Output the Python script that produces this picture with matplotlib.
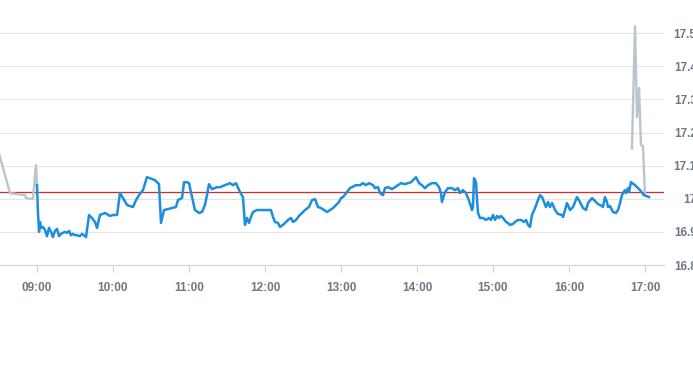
import matplotlib
matplotlib.use("Agg")
import matplotlib.pyplot as plt

# minutes after 09:00 and price
pre_t = [-30, -21.3, -9.5, -8.7, -3.2, -0.8, 0]
pre_v = [17.137, 17.017, 17.011, 17.002, 16.999, 17.102, 17.041]

post_t = [469.7, 472.1, 473.7, 475.3, 476.8, 478.4, 480.0]
post_v = [17.152, 17.521, 17.246, 17.334, 17.162, 17.159, 17.011]

day_t = [0, 0.8, 1.6, 2.4, 3.2, 4.7, 6.3, 7.9, 9.5, 11.1, 12.6, 14.2, 15.8, 17.4,
         18.9, 20.5, 22.1, 23.7, 25.3, 26.8, 28.4, 30.0, 31.6, 33.9, 35.5, 37.1,
         38.7, 41.1, 43.4, 45.8, 47.4, 49.7, 53.7, 57.6, 60.0, 63.2, 65.5, 67.9,
         71.1, 75.8, 78.2, 80.5, 83.7, 86.8, 89.2, 93.2, 96.3, 97.9, 100.3, 103.4,
         106.6, 109.7, 111.3, 114.5, 116.1, 118.4, 120.0, 122.4, 124.7, 127.9,
         130.3, 132.6, 134.2, 135.8, 138.2, 142.1, 144.5, 148.4, 152.4, 154.7,
         157.1, 160.3, 162.6, 164.2, 165.8, 167.4, 168.9, 170.5, 173.7, 177.6,
         181.6, 184.7, 186.3, 187.9, 190.3, 191.8, 194.2, 196.6, 198.2, 200.5,
         202.1, 204.5, 206.8, 209.2, 211.6, 214.7, 217.1, 219.5, 221.8, 224.2,
         226.6, 229.0, 231.3, 233.7, 236.1, 238.4, 240.0, 241.6, 244.7, 247.1,
         248.7, 251.8, 255.0, 257.4, 259.7, 262.1, 265.3, 266.8, 269.2, 270.8,
         273.2, 274.7, 277.1, 280.3, 282.6, 285.0, 287.4, 290.5, 292.9, 295.3,
         299.2, 301.6, 303.9, 306.3, 308.7, 311.8, 315.0, 317.4, 318.9, 319.7,
         322.1, 324.5, 327.6, 330.0, 332.4, 333.9, 336.3, 338.7, 340.3, 341.8,
         343.4, 344.2, 345.0, 346.6, 347.4, 348.2, 349.7, 352.1, 354.5, 356.8,
         358.4, 360.0, 361.6, 363.2, 364.7, 366.3, 367.9, 370.3, 371.8, 373.4,
         375.8, 377.4, 379.7, 382.1, 384.5, 386.1, 387.6, 389.2, 390.8, 393.2,
         395.5, 397.1, 398.7, 400.3, 401.8, 403.4, 405.0, 406.6, 409.0, 411.3,
         414.5, 415.3, 418.4, 420.8, 423.2, 426.3, 428.7, 431.1, 433.4, 435.0,
         438.2, 440.5, 442.9, 446.1, 446.8, 448.4, 450.0, 450.8, 452.4, 453.9,
         454.7, 457.1, 458.7, 460.3, 461.8, 462.6, 464.2, 465.0, 466.6, 467.4,
         468.9, 472.1, 476.1, 479.2, 483.2]
day_v = [17.041, 16.957, 16.900, 16.930, 16.912, 16.915, 16.906, 16.887, 16.912,
         16.900, 16.884, 16.903, 16.909, 16.887, 16.894, 16.897, 16.900, 16.897,
         16.903, 16.890, 16.894, 16.890, 16.890, 16.887, 16.894, 16.890, 16.884,
         16.951, 16.942, 16.930, 16.912, 16.951, 16.957, 16.948, 16.951, 16.951,
         17.017, 17.002, 16.981, 16.975, 16.996, 17.011, 17.026, 17.065, 17.062,
         17.056, 17.044, 16.927, 16.966, 16.969, 16.972, 16.975, 16.996, 17.002,
         17.050, 17.050, 17.047, 17.005, 16.966, 16.957, 16.960, 16.981, 17.011,
         17.044, 17.029, 17.035, 17.035, 17.041, 17.047, 17.041, 17.047, 17.020,
         17.005, 16.921, 16.942, 16.927, 16.945, 16.960, 16.966, 16.966, 16.966,
         16.966, 16.945, 16.930, 16.927, 16.915, 16.921, 16.930, 16.936, 16.942,
         16.930, 16.936, 16.948, 16.957, 16.966, 16.975, 16.996, 16.999, 16.975,
         16.972, 16.966, 16.960, 16.966, 16.972, 16.981, 16.990, 17.002, 17.005,
         17.020, 17.032, 17.035, 17.041, 17.041, 17.047, 17.041, 17.047, 17.041,
         17.032, 17.035, 17.017, 17.011, 17.032, 17.035, 17.029, 17.035, 17.041,
         17.047, 17.044, 17.047, 17.050, 17.065, 17.047, 17.041, 17.032, 17.041,
         17.047, 17.047, 17.035, 17.017, 16.990, 17.020, 17.032, 17.032, 17.026,
         17.032, 17.017, 17.026, 17.017, 17.002, 16.987, 16.966, 16.975, 17.062,
         17.050, 16.996, 16.957, 16.942, 16.942, 16.936, 16.942, 16.936, 16.951,
         16.936, 16.948, 16.942, 16.948, 16.942, 16.930, 16.927, 16.921, 16.924,
         16.930, 16.936, 16.936, 16.930, 16.936, 16.921, 16.915, 16.951, 16.972,
         16.996, 17.011, 17.005, 16.990, 16.975, 16.990, 16.975, 16.987, 16.966,
         16.954, 16.951, 16.945, 16.987, 16.966, 16.975, 17.005, 16.990, 16.972,
         16.966, 16.987, 17.002, 16.993, 16.984, 16.978, 16.975, 17.005, 16.990,
         16.975, 16.978, 16.966, 16.960, 16.957, 16.966, 16.987, 17.011, 17.017,
         17.026, 17.017, 17.032, 17.020, 17.050, 17.041, 17.026, 17.011, 17.005]

ref_price = 17.02
y_ticks = [16.8, 16.9, 17.0, 17.1, 17.2, 17.3, 17.4, 17.5]
y_labels = ["16.8", "16.9", "17", "17.1", "17.2", "17.3", "17.4", "17.5"]
x_ticks = [0, 60, 120, 180, 240, 300, 360, 420, 480]
x_labels = ["09:00", "10:00", "11:00", "12:00", "13:00", "14:00", "15:00", "16:00", "17:00"]

plt.rcParams['font.family'] = ['Liberation Sans', 'DejaVu Sans']

fig = plt.figure(figsize=(6.93, 3.65), dpi=100)
ax = fig.add_axes([0, 1 - 265 / 365, 664 / 693, 265 / 365])

ax.plot(pre_t, pre_v, color='#b9c5cc', lw=1.7, solid_joinstyle='round', zorder=3)
ax.plot(post_t, post_v, color='#b9c5cc', lw=1.7, solid_joinstyle='round', zorder=3)
ax.plot(day_t, day_v, color='#1b8fdd', lw=1.8, solid_joinstyle='round', zorder=4)
ax.axhline(ref_price, color='#d62b2b', lw=0.9, zorder=2)

ax.set_xlim(-29.2, 495)
ax.set_ylim(16.8, 17.6)

ax.set_yticks(y_ticks)
ax.set_yticklabels(y_labels)
ax.yaxis.tick_right()
ax.tick_params(axis='y', length=0, pad=23.5, labelsize=8.5, labelcolor='#6e7986')
for lbl in ax.get_yticklabels():
    lbl.set_horizontalalignment('right')
    lbl.set_fontweight('bold')
ax.grid(axis='y', color='#e6e6e6', lw=0.8)

ax.set_xticks(x_ticks)
ax.set_xticklabels(x_labels)
ax.tick_params(axis='x', length=5, width=0.8, color='#ccd6eb', pad=7,
               labelsize=8.5, labelcolor='#6e7986')
for lbl in ax.get_xticklabels():
    lbl.set_fontweight('bold')

for side in ['top', 'left', 'right']:
    ax.spines[side].set_visible(False)
ax.spines['bottom'].set_color('#ccd6eb')
ax.spines['bottom'].set_linewidth(0.8)

fig.savefig('out.png', dpi=100)
